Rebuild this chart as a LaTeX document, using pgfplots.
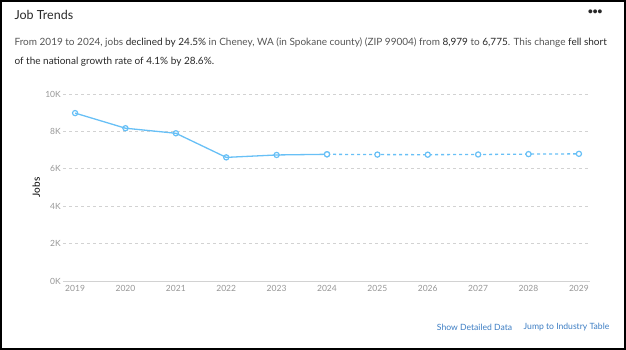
\documentclass[border=0pt]{standalone}
\usepackage{pgfplots}
\pgfplotsset{compat=1.18}
\usepackage{fontspec}
\setmainfont{Lato}
\definecolor{lineblue}{RGB}{104,192,246}
\definecolor{gridgray}{RGB}{210,210,210}
\definecolor{tickgray}{RGB}{150,150,150}
\definecolor{txtgray}{RGB}{85,85,85}
\definecolor{darktxt}{RGB}{40,40,40}
\definecolor{linkblue}{RGB}{60,125,195}
\begin{document}
\begin{tikzpicture}[x=1pt,y=1pt]
\useasboundingbox (0,0) rectangle (626,350);
\draw[black,line width=2pt] (1,1) rectangle (625,349);
\node[anchor=west,text=darktxt,font=\fontsize{12.5}{14}\selectfont] at (11,335) {Job Trends};
\node[anchor=east,text=darktxt,font=\fontsize{9}{10}\selectfont\bfseries] at (606,337.5) {\textbullet\kern-0.5pt\textbullet\kern-0.5pt\textbullet};
\node[anchor=west,text=txtgray,font=\fontsize{10}{12}\selectfont] at (11,307) {From 2019 to 2024, jobs {\color{darktxt}declined by 24.5\%} in Cheney, WA (in Spokane county) (ZIP 99004) from {\color{darktxt}8,979} to {\color{darktxt}6,775}. This change {\color{darktxt}fell short}};
\node[anchor=west,text=darktxt,font=\fontsize{10}{12}\selectfont] at (11,288) {of the national growth rate of 4.1\% by 28.6\%.};
\node[anchor=center,text=linkblue,font=\fontsize{8.6}{10}\selectfont] at (474.5,23) {Show Detailed Data};
\node[anchor=center,text=linkblue,font=\fontsize{8.6}{10}\selectfont] at (566.5,23) {Jump to Industry Table};
\begin{axis}[
  at={(63pt,69pt)}, anchor=south west,
  width=527pt, height=187pt, scale only axis,
  xmin=2018.76, xmax=2029.22,
  ymin=0, ymax=10000,
  xtick={2019,...,2029},
  ytick={0,2000,4000,6000,8000,10000},
  yticklabels={0K,2K,4K,6K,8K,10K},
  xticklabel={\pgfmathprintnumber[fixed,1000 sep={}]{\tick}},
  /pgf/number format/assume math mode=true,
  scaled y ticks=false,
  axis x line*=bottom, axis y line*=left,
  x axis line style={draw=gridgray,line width=0.8pt,-},
  y axis line style={draw=none},
  ymajorgrids, grid style={gridgray,dash pattern=on 3pt off 3pt,line width=0.8pt},
  tick style={draw=none},
  ticklabel style={text=tickgray,font=\fontsize{8.5}{10}\selectfont},
  xticklabel style={yshift=-1pt},
  yticklabel style={xshift=1.3pt},
  ylabel={Jobs}, ylabel style={text=darktxt,font=\fontsize{9}{10}\selectfont\bfseries},
  every axis y label/.style={at={(axis description cs:-0.051,0.5)},rotate=90,anchor=center},
  clip=false,
]
\addplot[lineblue,line width=1.3pt,mark=o,mark size=2.6pt,mark options={fill=white,line width=1.2pt,solid}]
coordinates {(2019,8979) (2020,8170) (2021,7900) (2022,6610) (2023,6740) (2024,6775)};
\addplot[lineblue,line width=1.3pt,dash pattern=on 3pt off 3pt,mark=*,mark size=2.6pt,mark options={fill=white,line width=1.2pt,solid}]
coordinates {(2024,6775) (2025,6760) (2026,6755) (2027,6765) (2028,6785) (2029,6800)};
\end{axis}
\end{tikzpicture}
\end{document}
